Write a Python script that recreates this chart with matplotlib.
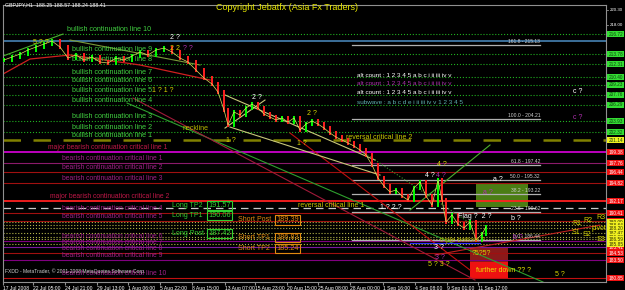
import matplotlib
matplotlib.use("Agg")
import matplotlib.pyplot as plt
import matplotlib.transforms as mtransforms
from matplotlib.patches import Rectangle

plt.rcParams['font.family'] = ['Liberation Sans', 'DejaVu Sans']

# price path (bar position, close)
bar_x = [4, 12, 20, 28, 36, 44, 52, 60, 68, 76, 84, 92, 100, 108, 116, 124, 132, 140,
         148, 156, 164, 172, 180, 188, 196, 204, 212, 218, 224, 228, 234, 240, 246, 252,
         258, 264, 270, 276, 282, 288, 294, 300, 306, 312, 318, 324, 330, 336, 342, 348,
         354, 360, 366, 372, 378, 384, 390, 396, 402, 408, 414, 420, 426, 432, 438, 442,
         446, 452, 458, 464, 470, 476, 482, 486]
close = [212.90, 213.34, 213.78, 214.37, 214.81, 215.25, 215.69, 214.81, 213.19, 213.64,
         212.90, 213.34, 212.61, 212.46, 213.19, 212.90, 213.49, 214.08, 213.64, 214.37,
         214.66, 214.08, 213.19, 212.61, 211.43, 210.25, 209.37, 208.20, 205.55, 203.35,
         205.26, 204.82, 205.85, 206.43, 205.85, 204.96, 204.52, 204.08, 204.38, 203.79,
         204.38, 202.61, 203.49, 203.93, 203.49, 202.90, 202.17, 201.58, 201.14, 200.70,
         200.26, 199.67, 198.94, 197.47, 195.55, 194.38, 193.50, 193.80, 192.91, 192.32,
         194.09, 194.97, 192.91, 191.58, 195.26, 192.32, 189.09, 190.12, 188.79, 188.20,
         189.09, 186.44, 187.32, 188.35]

time_ticks = [3, 33, 65, 97, 128, 160, 192, 225, 255, 287, 318, 350, 383, 415, 447, 478]
time_labels = ["17 Jul 2008", "22 Jul 05:00", "24 Jul 21:00", "29 Jul 13:00", "1 Aug 06:00",
               "5 Aug 22:00", "8 Aug 15:00", "13 Aug 07:00", "15 Aug 23:00", "20 Aug 15:00",
               "25 Aug 08:00", "28 Aug 00:00", "1 Sep 16:00", "4 Sep 08:00", "9 Sep 01:00",
               "11 Sep 17:00"]

bull_levels = [216.72, 213.78, 212.31, 210.40, 209.23, 207.76, 206.29, 203.93, 202.32, 201.14]
bull_names = ["bullish continuation line 10", "bullish continuation line 9",
              "bullish continuation line 8", "bullish continuation line 7",
              "bullish continuation line 6", "bullish continuation line 5",
              "bullish continuation line 4", "bullish continuation line 3",
              "bullish continuation line 2", "bullish continuation line 1"]

bear_levels = [199.38, 197.76, 196.44, 194.82, 192.17, 190.41, 189.23, 186.29, 185.41,
               184.53, 183.50, 180.85]
bear_names = ["major bearish continuation critical line 1", "bearish continuation critical line 1",
              "bearish continuation critical line 2", "bearish continuation critical line 3",
              "major bearish continuation critical line 2", "bearish continuation critical line 4",
              "bearish continuation critical line 5", "bearish continuation critical line 6",
              "bearish continuation critical line 7", "bearish continuation critical line 8",
              "bearish continuation critical line 9", "bearish continuation critical line 10"]
bear_colors = ["#cc00cc", "#8b1a6b", "#a01010", "#a01010", "#ff2020", "#a01010", "#a01010",
               "#800080", "#7a1aa0", "#a01010", "#800080", "#c01010"]

pivot_levels = [189.09, 188.64, 188.20, 187.47, 186.88, 186.59, 185.85]
pivot_names = ["R3", "R2", "R1", "pivot", "S1", "S2", "S3"]
pivot_label_x = [596, 583, 572, 592, 572, 583, 597]

fib_levels = [215.13, 204.21, 197.42, 195.32, 193.22, 190.62, 186.44]
fib_names = ["161.8", "100.0", "61.8", "50.0", "38.2", "23.6", "0.0"]

long_names = ["Long TP2", "Long TP1", "Long Post"]
long_prices = [191.57, 190.06, 187.42]
short_names = ["Short Post", "Short TP1", "Short TP2"]
short_prices = [189.39, 186.83, 185.24]

steel_level = 215.69
reversal1_level = 191.14
axis_prices = [220.30, 218.00]

trendlines = [
    (127, 206.58, 543, 180.27, "#2ea02e", "-"),
    (133, 207.31, 475, 180.56, "#a01a3a", "-"),
    (410, 190.85, 490, 200.41, "#4caf2e", "-"),
    (290, 202.17, 470, 182.03, "#c01010", "-"),
    (435, 184.24, 600, 188.64, "#c02020", "-"),
    (225, 207.76, 375, 198.20, "#c8c87a", "-"),
    (230, 203.05, 380, 195.99, "#c8c87a", "-"),
    (225, 202.90, 265, 207.02, "#c8c87a", "-"),
    (360, 199.67, 470, 188.94, "#3c9a2c", ":"),
    (3, 213.49, 63, 216.72, "#4caf2e", "-"),
    (70, 215.84, 200, 212.17, "#7a9a3a", "-"),
    (410, 185.99, 480, 185.99, "#3030ff", "-"),
]
ma_x = [3, 30, 70, 140, 210]
ma_y = [210.84, 213.05, 213.64, 212.17, 209.96]

boxes = [
    (476, 191.29, 52, 3.53, "#4b7d14"),
    (470, 183.20, 38, 2.20, "#8b1a1a"),
    (470, 180.85, 38, 2.35, "#ee1111"),
]

notes = [
    (170, 216.28, "2 ?", "white"), (170, 214.66, "2 2 ", "#d4d400"), (183, 214.66, "? ?", "#b030b0"),
    (152, 208.49, "1 ? 1 ?", "#d4d400"), (33, 215.55, "5 ? ?", "#d4d400"),
    (183, 202.90, "neckline", "#b8b800"), (252, 207.46, "2 ?", "white"),
    (307, 205.11, "2 ?", "#d4d400"), (297, 200.70, "1 ?", "#d4d400"), (226, 201.00, "1 ?", "#d4d400"),
    (573, 208.34, "c ?", "white"), (573, 204.52, "c ?", "#b030b0"),
    (437, 197.47, "4 ?", "#d4d400"), (425, 195.99, "4 ?", "white"), (436, 195.99, "4 ?", "#b030b0"),
    (493, 195.41, "a ?", "white"), (483, 193.50, "a ?", "#b030b0"),
    (511, 189.67, "b ?", "white"), (513, 186.88, "b ?", "#b030b0"),
    (458, 189.97, "Flag ?  2 ?", "white"), (440, 186.44, "triple bottom ?", "#b0b000"),
    (434, 185.41, "3 ?", "white"), (435, 183.94, "3 ?", "#b030b0"),
    (428, 182.77, "5 ? 3 ?", "#d4d400"), (555, 181.44, "5 ?", "#d4d400"),
    (472, 184.53, "?5?5?", "#d4d400"), (476, 182.03, "further down ?? ?", "#e8e800"),
    (380, 191.29, "1 ? 2 ?", "white"), (298, 191.50, "reversal critical line 1", "#c8c800"),
    (346, 201.50, "reversal critical line 2", "#c8c800"),
]

counts = [
    ("alt count : 1 2 3 4 5 a b c i ii iii iv v", 210.68, "white"),
    ("alt count : 1 2 3 4 5 a b c i ii iii iv v", 209.50, "#b030b0"),
    ("alt count : 1 2 3 4 5 a b c i ii iii iv v", 208.20, "white"),
    ("subwave : a b c d e i ii iii iv v 1 2 3 4 5", 206.73, "#5fb0b0"),
]

fig = plt.figure(figsize=(6.25, 2.90), dpi=100, facecolor="black")
ax = fig.add_axes([3 / 625, 8 / 290, 603 / 625, 277 / 290], facecolor="black")
ax.set_xlim(3, 606)
ax.set_ylim(180.27, 220.99)
for sp in ax.spines.values():
    sp.set_color("#909090")
    sp.set_linewidth(0.8)

tr = mtransforms.blended_transform_factory(ax.transAxes, ax.transData)
fs = 5.1
bfs = 3.4

# horizontal levels
ax.axhline(steel_level, color="#4682b4", lw=1.2)
for i, (lv, nm) in enumerate(zip(bull_levels, bull_names)):
    if i == len(bull_levels) - 1:
        ax.axhline(lv, color="#808000", lw=1.8, dashes=(7, 5))
        box_c = "#f0f020"
    else:
        ax.axhline(lv, color="#20b020", lw=0.8, ls=":")
        box_c = "#33dd33"
    ax.text(67 if i == 0 else 72, lv + 0.15, nm, color="#40d040", fontsize=fs, va="bottom")
    ax.text(1.004, lv, f"{lv:.2f}", transform=tr, fontsize=bfs, color="#104010", va="center",
            ha="left", clip_on=False, bbox=dict(boxstyle="square,pad=0.2", fc=box_c, ec="none"))

for i, (lv, nm, c) in enumerate(zip(bear_levels, bear_names, bear_colors)):
    ax.axhline(lv, color=c, lw=1.3 if "major" in nm else 0.8)
    lx = 48 if i == 0 else (50 if i == 4 else 62)
    lc = "#c01848" if "major" in nm else "#a02088"
    ax.text(lx, lv + 0.15, nm, color=lc, fontsize=fs - 0.2, va="bottom")
    ax.text(1.004, lv, f"{lv:.2f}", transform=tr, fontsize=bfs, color="white", va="center",
            ha="left", clip_on=False, bbox=dict(boxstyle="square,pad=0.2", fc="#ee1111", ec="none"))

ax.axhline(reversal1_level, color="#c8c8c8", lw=0.9, dashes=(6, 4))

for lv, nm, lx in zip(pivot_levels, pivot_names, pivot_label_x):
    ax.axhline(lv, color="#b5b54a", lw=0.8, ls=":")
    ax.text(lx, lv + 0.1, nm, color="#d4d400", fontsize=5, va="bottom", ha="left")
    ax.text(1.004, lv, f"{lv:.2f}", transform=tr, fontsize=bfs, color="#303000", va="center",
            ha="left", clip_on=False, bbox=dict(boxstyle="square,pad=0.2", fc="#f0f020", ec="none"))

# fibonacci
for lv, nm in zip(fib_levels, fib_names):
    ax.plot([352, 540], [lv, lv], color="#b0b0b0", lw=0.9)
    ax.text(540, lv + 0.15, f"{nm} - {lv:.2f}", color="#d0d0d0", fontsize=3.6, ha="right", va="bottom")

# trendlines
for x1, y1, x2, y2, c, ls in trendlines:
    ax.plot([x1, x2], [y1, y2], color=c, lw=0.8, ls=ls)
ax.plot(ma_x, ma_y, color="#d02020", lw=0.9)

for x, y, w, h, c in boxes:
    ax.add_patch(Rectangle((x, y), w, h, facecolor=c, edgecolor="none", zorder=1))

# candles
prev = close[0]
for x, c in zip(bar_x, close):
    col = "#00ff00" if c >= prev else "#ff2020"
    lo, hi = min(prev, c), max(prev, c)
    ax.vlines(x, lo - 0.3, hi + 0.3, color=col, lw=1.4, zorder=3)
    prev = c
ax.plot(bar_x, close, color="#e0e060", lw=0.5, zorder=4)

# long / short targets
for nm, p in zip(long_names, long_prices):
    ax.text(172, p, nm, color="#30d030", fontsize=5, va="center")
    ax.text(208, p, f"{p:.2f}", color="#30d030", fontsize=5.3, va="center",
            bbox=dict(boxstyle="square,pad=0.15", fc="none", ec="#30d030", lw=0.8))
for nm, p in zip(short_names, short_prices):
    ax.text(238, p, nm, color="#e08a10", fontsize=5, va="center")
    ax.text(276, p, f"{p:.2f}", color="#e08a10", fontsize=5.3, va="center",
            bbox=dict(boxstyle="square,pad=0.15", fc="none", ec="#e08a10", lw=0.8))

for x, y, t, c in notes:
    ax.text(x, y, t, color=c, fontsize=5, va="center", zorder=5)
for t, y, c in counts:
    ax.text(357, y, t, color=c, fontsize=4.6, va="center")

# y tick texts
for p in axis_prices:
    ax.text(1.006, p, f"{p:.2f}", transform=tr, color="white", fontsize=3.2, va="center",
            ha="left", clip_on=False)
    ax.plot([1.0, 1.004], [p, p], transform=tr, color="#909090", lw=0.6, clip_on=False)

ax.set_yticks([])
ax.set_xticks(time_ticks)
ax.set_xticklabels(time_labels, fontsize=3.6, color="white", ha="left")
ax.tick_params(axis="x", length=2, color="#909090", pad=1)

fig.text(5 / 625, 1 - 5 / 290, "GBPJPY,H1  188.25 188.57 188.24 188.41",
         color="white", fontsize=3.8, va="center")
fig.text(287 / 625, 1 - 8 / 290, "Copyright Jebatfx (Asia Fx Traders)", color="#e8e800",
         fontsize=6.5, ha="center", va="center")
ax.text(5, 181.9, "FXDD - MetaTrader, \u00a9 2001-2008 MetaQuotes Software Corp.",
        color="#d0d0d0", fontsize=3.6, va="center")

fig.savefig("out.png", dpi=100, facecolor="black")
